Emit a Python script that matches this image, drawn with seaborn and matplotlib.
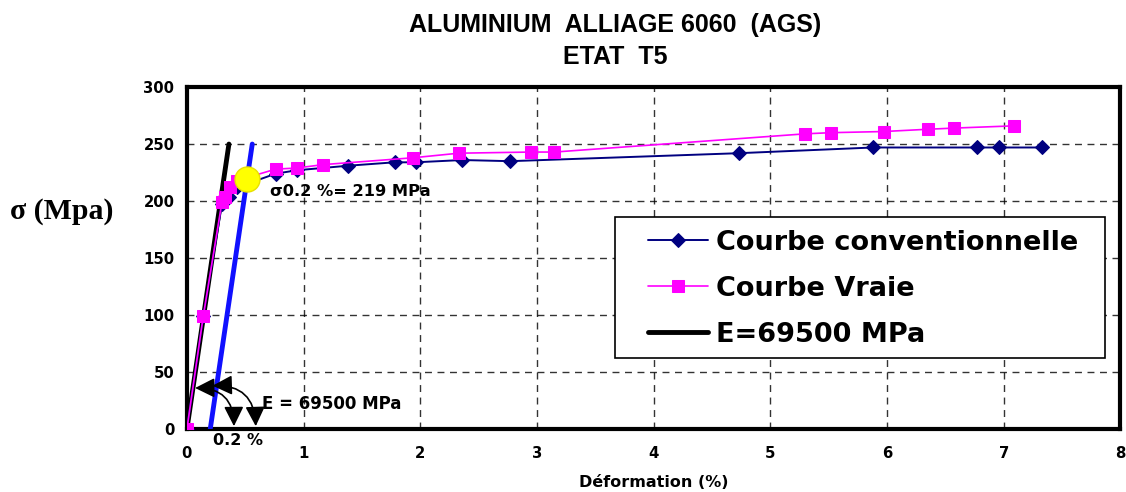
import matplotlib
matplotlib.use("Agg")
import matplotlib.pyplot as plt
from matplotlib.patches import Rectangle
import seaborn as sns
import pandas as pd

# Conventional stress-strain curve (strain %, stress MPa)
conv_strain = [0, 0.14, 0.30, 0.36, 0.43, 0.76, 0.94, 1.38, 1.78, 1.96, 2.36, 2.77,
               4.73, 5.88, 6.77, 6.96, 7.33]
conv_stress = [0, 99, 197, 204, 212, 224, 227, 231, 234, 234, 236, 235,
               242, 247, 247, 247, 247]

# True stress-strain curve
true_strain = [0, 0.14, 0.30, 0.33, 0.37, 0.43, 0.76, 0.94, 1.17, 1.94, 2.33, 2.95,
               3.15, 5.30, 5.52, 5.97, 6.35, 6.57, 7.09]
true_stress = [0, 99, 199, 204, 212, 218, 228, 229, 232, 238, 242, 243,
               243, 259, 260, 261, 263, 264, 266]

# Elastic line (E = 69500 MPa) and its 0.2 % offset
elastic_strain = [0, 0.36]
elastic_stress = [0, 250]
offset_strain = [0.2, 0.56]
offset_stress = [0, 250]

# 0.2 % proof stress
proof_strain = [0.515]
proof_stress = [219]

x_ticks = [0, 1, 2, 3, 4, 5, 6, 7, 8]
y_ticks = [0, 50, 100, 150, 200, 250, 300]

sns.set_theme(style="white", rc={"text.color": "black", "axes.labelcolor": "black",
                                  "xtick.color": "black", "ytick.color": "black"})
plt.rcParams["font.family"] = ["DejaVu Sans"]

BOLD = ["DejaVu Sans"]
ARIAL = ["Liberation Sans", "DejaVu Sans"]

fig = plt.figure(figsize=(11.26, 4.92), dpi=100)
ax = fig.add_axes([0.166, 0.128, 0.829, 0.695])

df_conv = pd.DataFrame({"x": conv_strain, "y": conv_stress})
df_true = pd.DataFrame({"x": true_strain, "y": true_stress})

sns.lineplot(data=df_conv, x="x", y="y", sort=False, ax=ax, color="#000080",
             linewidth=1.4, marker="D", markersize=7, markeredgecolor="#000080",
             label="Courbe conventionnelle", zorder=4)
sns.lineplot(data=df_true, x="x", y="y", sort=False, ax=ax, color="#FF00FF",
             linewidth=1.2, marker="s", markersize=9, markeredgecolor="#FF00FF",
             label="Courbe Vraie", zorder=5)
sns.lineplot(x=elastic_strain, y=elastic_stress, ax=ax, color="black",
             linewidth=3.5, label="E=69500 MPa", zorder=3)
sns.lineplot(x=offset_strain, y=offset_stress, ax=ax, color="#1010FF",
             linewidth=3.5, legend=False, zorder=3)
ax.plot(proof_strain, proof_stress, "o", color="#FFFF00", markersize=18,
        markeredgecolor="#E8E000", zorder=6)

ax.set_xlim(0, 8)
ax.set_ylim(0, 300)
ax.set_xticks(x_ticks)
ax.set_yticks(y_ticks)
ax.grid(True, color="black", linestyle=(0, (5, 4)), linewidth=1.0, alpha=0.8)
for s in ax.spines.values():
    s.set_color("black")
    s.set_linewidth(3)
ax.tick_params(axis="both", direction="out", length=5, width=1.2, color="black",
               labelsize=10.7, pad=4)
ax.tick_params(axis="x", pad=7)
for lab in ax.get_xticklabels() + ax.get_yticklabels():
    lab.set_fontweight("bold")
    lab.set_family(BOLD)

ax.set_xlabel("Déformation (%)", fontsize=11.5, fontweight="bold", family=BOLD,
              va="center")
ax.xaxis.set_label_coords(0.5, -0.156)
ax.set_ylabel("σ (Mpa)", fontsize=21.5, fontweight="bold", rotation=0,
              family=["Liberation Serif", "DejaVu Serif"], va="center", ha="center")
ax.yaxis.set_label_coords(-0.134, 0.635)

fig.text(0.546, 0.949, "ALUMINIUM  ALLIAGE 6060  (AGS)", fontsize=18,
         fontweight="bold", family=ARIAL, ha="center", va="center")
fig.text(0.546, 0.884, "ETAT  T5", fontsize=18, fontweight="bold", family=ARIAL,
         ha="center", va="center")

ax.text(0.71, 208, "σ0.2 %= 219 MPa", fontsize=11.7, fontweight="bold",
        family=BOLD, ha="left", va="center", zorder=7)
ax.text(0.64, 22, "E = 69500 MPa", fontsize=12, fontweight="bold",
        family=BOLD, ha="left", va="center")
ax.text(0.225, -10, "0.2 %", fontsize=11.5, fontweight="bold", family=BOLD,
        ha="left", va="center", clip_on=False)

# curved double-headed arrows marking the elastic slope and the 0.2 % offset
arc_style = dict(arrowstyle="<|-|>,head_length=0.8,head_width=0.4", color="black",
                 lw=1.2, mutation_scale=15, shrinkA=0, shrinkB=0,
                 connectionstyle="arc3,rad=-0.5")
ax.annotate("", xy=(0.403, 2.5), xytext=(0.07, 36), arrowprops=arc_style)
ax.annotate("", xy=(0.59, 2.5), xytext=(0.22, 38), arrowprops=arc_style)

# legend box, drawn separately so its padding can be set freely
ax.add_patch(Rectangle((0.4587, 0.2088), 0.984 - 0.4587, 0.6206 - 0.2088,
                       transform=ax.transAxes, facecolor="white",
                       edgecolor="black", linewidth=1.2, zorder=9))
leg = ax.legend(loc="upper left", bbox_to_anchor=(0.4941, 0.583),
                borderaxespad=0, borderpad=0, frameon=False,
                handlelength=2.2, handletextpad=0.3, labelspacing=0.74,
                prop={"weight": "bold", "size": 19.5, "family": BOLD})
leg.set_zorder(10)

fig.savefig("out.png", dpi=100, facecolor="white")
